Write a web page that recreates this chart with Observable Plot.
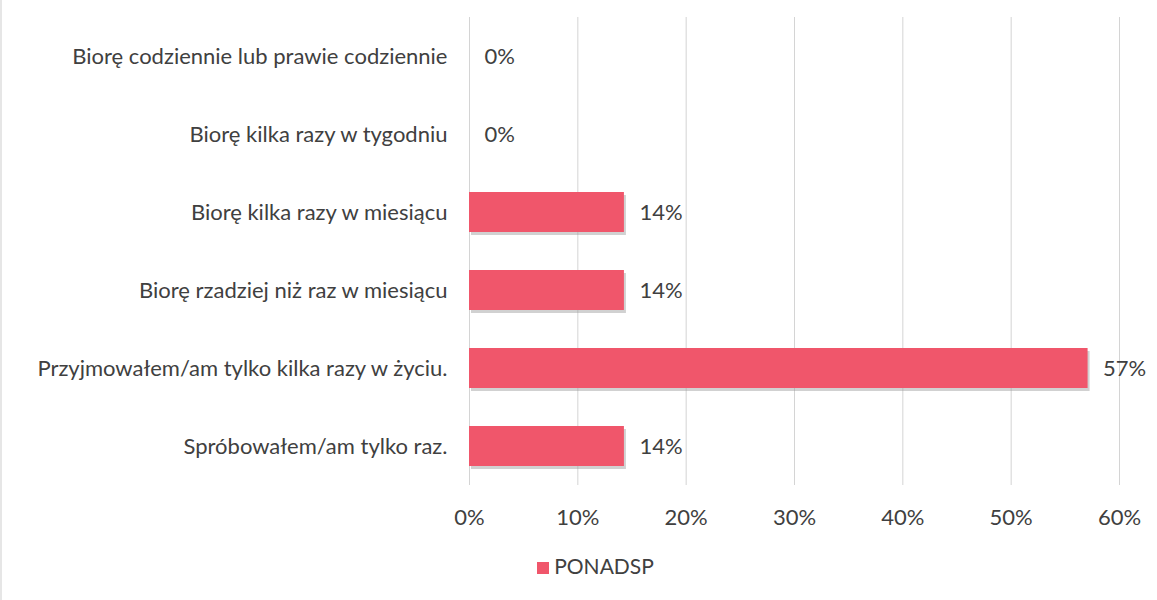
<!DOCTYPE html>
<html><head><meta charset="utf-8">
<script src="https://cdn.jsdelivr.net/npm/d3@7"></script>
<script src="https://cdn.jsdelivr.net/npm/@observablehq/plot@0.6"></script>
<style>
body{margin:0;background:#fff;font-family:Lato,sans-serif;}
#wrap{width:1157px;height:600px;position:relative;border-left:2px solid #e6e6e6;box-sizing:border-box;}
#legend{position:absolute;top:553px;left:0;width:1157px;text-align:center;font-size:21px;color:#404040;padding-left:30px;box-sizing:border-box;}
#legend span.sw{display:inline-block;width:12px;height:12px;background:#f0566b;margin-right:5px;vertical-align:0px;}
</style></head>
<body><div id="wrap"><div id="chart"></div><div id="legend"><span class="sw"></span>PONADSP</div></div>
<script>
const categories = [
  "Biorę codziennie lub prawie codziennie",
  "Biorę kilka razy w tygodniu",
  "Biorę kilka razy w miesiącu",
  "Biorę rzadziej niż raz w miesiącu",
  "Przyjmowałem/am tylko kilka razy w życiu.",
  "Spróbowałem/am tylko raz."
];
const values = [0, 0, 14.3, 14.3, 57.1, 14.3];
const valueLabels = ["0%", "0%", "14%", "14%", "57%", "14%"];
const xTicks = [0, 10, 20, 30, 40, 50, 60];
const seriesName = "PONADSP";

const data = categories.map((c, i) => ({cat: c, v: values[i], lab: valueLabels[i]}));
const FS = 22;

const chart = Plot.plot({
  width: 1155,
  height: 540,
  marginLeft: 467,
  marginRight: 38,
  marginTop: 17,
  marginBottom: 55,
  style: {fontFamily: "Lato, sans-serif", fontSize: FS + "px", color: "#404040", background: "#fff"},
  x: {domain: [0, 60], ticks: xTicks, tickFormat: d => d + "%", label: null},
  y: {domain: categories, paddingInner: 0.49, paddingOuter: 0.245, label: null},
  marks: [
    Plot.ruleX(xTicks, {stroke: "#d4d4d4", strokeWidth: 1}),
    Plot.barX(data.filter(d => d.v > 0), {x: "v", y: "cat", fill: "#9a9a9a", fillOpacity: 0.45, dx: 2, dy: 3}),
    Plot.barX(data.filter(d => d.v > 0), {x: "v", y: "cat", fill: "#f0566b"}),
    Plot.text(data, {x: "v", y: "cat", text: "lab", textAnchor: "start", dx: 15, fill: "#404040", fontSize: FS}),
    Plot.axisX({ticks: xTicks, tickFormat: d => d + "%", tickSize: 0, tickPadding: 24, fontSize: FS, label: null}),
    Plot.axisY({tickSize: 0, tickPadding: 22, fontSize: FS, label: null})
  ]
});
document.getElementById("chart").appendChild(chart);
</script></body></html>
